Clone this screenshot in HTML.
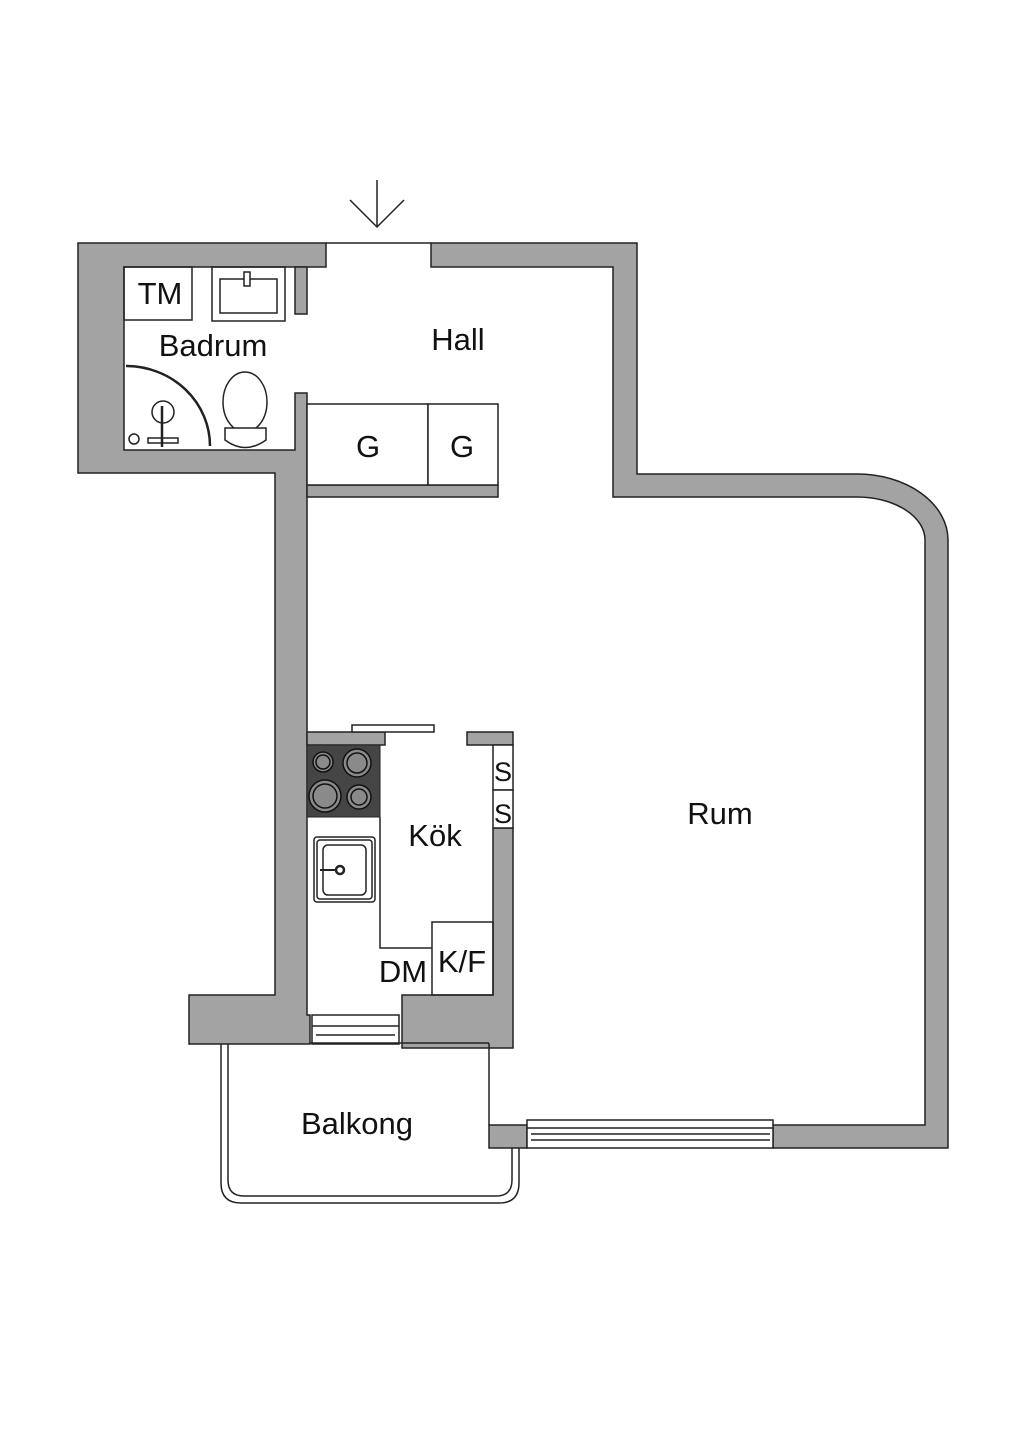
<!DOCTYPE html>
<html><head><meta charset="utf-8"><style>
html,body{margin:0;padding:0;background:#fff;}
svg{display:block;}
text{font-family:"Liberation Sans",sans-serif;font-size:31px;fill:#111;text-anchor:middle;}
</style></head><body>
<svg width="1024" height="1448" viewBox="0 0 1024 1448" xmlns="http://www.w3.org/2000/svg">
<g fill="#a3a3a3" stroke="#222" stroke-width="1.5">
<path d="M78,243 H326 V267 H124 V450 H295 V393 H307 V1015 H310 V1044 H189 V995 H275 V473 H78 Z"/>
<rect x="295" y="267" width="12" height="47"/>
<path d="M431,243 H637 V474 H857 A91,66 0 0 1 948,540 V1148 H773 V1125 H925 V540 A68,43 0 0 0 857,497 H613 V267 H431 Z"/>
<rect x="307" y="485" width="191" height="12"/>
<rect x="307" y="732" width="78" height="13"/>
<rect x="467" y="732" width="46" height="13"/>
<path d="M493,828 H513 V1048 H402 V995 H493 Z"/>
<rect x="489" y="1125" width="38" height="23"/>
</g>
<g fill="none" stroke="#222" stroke-width="1.5">
<line x1="326" y1="243" x2="431" y2="243"/>
<line x1="377" y1="180" x2="377" y2="227"/>
<polyline points="350,200 377,227 404,200"/>
<rect x="124" y="267" width="68" height="53"/>
<rect x="212" y="267" width="73" height="54"/>
<rect x="220" y="279" width="57" height="34"/>
<rect x="244" y="272" width="6" height="14" fill="#fff"/>
<path d="M126,366 A84,80 0 0 1 210,446" stroke-width="2.5"/>
<circle cx="163" cy="412" r="11"/>
<line x1="162" y1="406" x2="162" y2="447" stroke-width="2.5"/>
<rect x="148" y="438" width="30" height="5"/>
<circle cx="134" cy="439" r="5"/>
<ellipse cx="245" cy="402" rx="22" ry="30"/>
<path d="M225,428 H266 V440 Q245,455 225,440 Z" fill="#fff"/>
<rect x="307" y="404" width="121" height="81" fill="#fff"/>
<rect x="428" y="404" width="70" height="81" fill="#fff"/>
<rect x="352" y="725" width="82" height="7" fill="#fff"/>
<polyline points="380,817 380,948 432,948"/>
<rect x="432" y="922" width="61" height="73"/>
<rect x="493" y="745" width="20" height="45" fill="#fff"/>
<rect x="493" y="790" width="20" height="38" fill="#fff"/>
<rect x="314" y="837" width="61" height="65" rx="3"/>
<rect x="317" y="840" width="55" height="59" rx="3"/>
<rect x="323" y="845" width="43" height="50" rx="5"/>
<circle cx="340" cy="870" r="4" stroke-width="2.5"/>
<line x1="320" y1="870" x2="336" y2="870" stroke-width="2"/>
<rect x="312" y="1015" width="87" height="29" fill="#fff"/>
<line x1="312" y1="1026" x2="399" y2="1026"/>
<line x1="316" y1="1035" x2="395" y2="1035"/>
<line x1="310" y1="1043" x2="489" y2="1043"/>
<line x1="489" y1="1043" x2="489" y2="1125"/>
<path d="M221,1044 V1183 Q221,1203 241,1203 H499 Q519,1203 519,1183 V1148"/>
<path d="M228,1044 V1180 Q228,1196 244,1196 H496 Q512,1196 512,1180 V1148"/>
<rect x="527" y="1120" width="246" height="28" fill="#fff"/>
<line x1="527" y1="1128" x2="773" y2="1128"/>
<line x1="531" y1="1134" x2="770" y2="1134"/>
<line x1="531" y1="1140" x2="770" y2="1140"/>
</g>
<rect x="307" y="745" width="73" height="72" fill="#454545" stroke="#222"/>
<g fill="#8a8a8a" stroke="#111" stroke-width="1.5">
<circle cx="323" cy="762" r="10"/><circle cx="323" cy="762" r="7"/>
<circle cx="357" cy="763" r="14"/><circle cx="357" cy="763" r="10"/>
<circle cx="325" cy="796" r="16"/><circle cx="325" cy="796" r="12"/>
<circle cx="359" cy="797" r="12"/><circle cx="359" cy="797" r="8"/>
</g>
<text x="160" y="304">TM</text>
<text x="213" y="356">Badrum</text>
<text x="458" y="350">Hall</text>
<text x="368" y="457">G</text>
<text x="462" y="457">G</text>
<text x="435" y="846">Kök</text>
<text x="503" y="781" style="font-size:27px">S</text>
<text x="503" y="823" style="font-size:27px">S</text>
<text x="720" y="824">Rum</text>
<text x="403" y="982">DM</text>
<text x="462" y="972">K/F</text>
<text x="357" y="1134">Balkong</text>
</svg>
</body></html>
